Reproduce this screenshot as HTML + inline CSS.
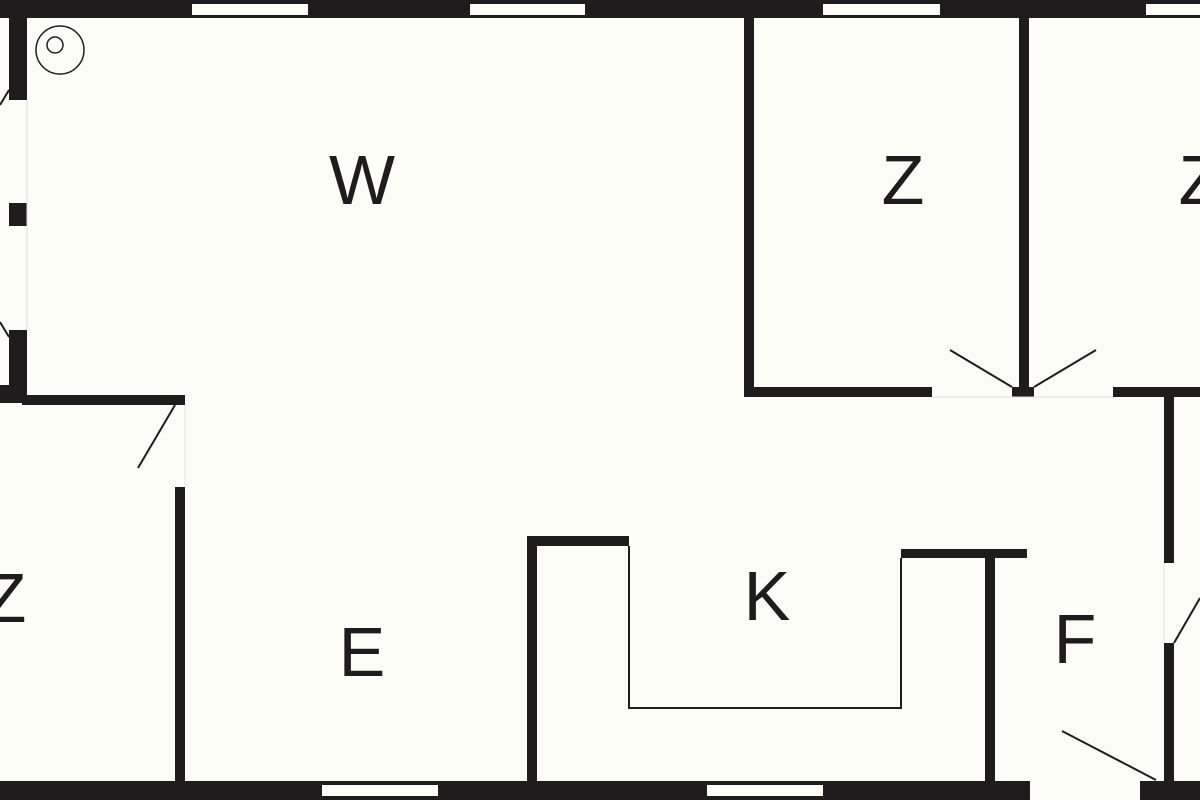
<!DOCTYPE html>
<html><head><style>html,body{margin:0;padding:0;background:#fdfdf8;}svg{display:block}</style></head>
<body>
<svg width="1200" height="800" viewBox="0 0 1200 800" xmlns="http://www.w3.org/2000/svg">
<rect width="1200" height="800" fill="#fdfdf8"/>
<g fill="#1e1c1d">
<rect x="0" y="0" width="1200" height="18"/>
<rect x="0" y="781" width="1030" height="19"/>
<rect x="1140" y="781" width="60" height="19"/>
<rect x="9" y="0" width="18" height="100"/>
<rect x="9" y="203" width="18" height="23"/>
<rect x="9" y="330" width="18" height="72"/>
<rect x="0" y="385" width="27" height="18"/>
<rect x="22" y="395" width="163" height="10"/>
<rect x="175" y="487" width="10" height="294"/>
<rect x="744" y="18" width="10" height="379"/>
<rect x="744" y="387" width="188" height="10"/>
<rect x="1012" y="387" width="22" height="10"/>
<rect x="1019" y="18" width="10" height="375"/>
<rect x="1113" y="387" width="87" height="10"/>
<rect x="1164" y="397" width="10" height="166"/>
<rect x="1164" y="643" width="10" height="138"/>
<rect x="527" y="537" width="10" height="244"/>
<rect x="527" y="536" width="102" height="10"/>
<rect x="901" y="549" width="126" height="9"/>
<rect x="985" y="555" width="10" height="226"/>
</g>
<g fill="#fdfdf8">
<rect x="192" y="4" width="116" height="11"/>
<rect x="470" y="4" width="115" height="11"/>
<rect x="823" y="4" width="117" height="11"/>
<rect x="1146" y="4" width="54" height="11"/>
<rect x="322" y="785" width="116" height="11"/>
<rect x="707" y="785" width="116" height="11"/>
</g>
<g stroke="#1e1c1d" fill="none" stroke-width="2">
<path d="M629 546 V708 H901 V558"/>
<line x1="175" y1="405" x2="138" y2="468"/>
<line x1="950" y1="350" x2="1012" y2="387"/>
<line x1="1096" y1="350" x2="1034" y2="387"/>
<line x1="1174" y1="643" x2="1200" y2="598"/>
<line x1="1062" y1="731" x2="1156" y2="780"/>
<line x1="9" y1="90" x2="0" y2="105"/>
<line x1="9" y1="337" x2="0" y2="322"/>
<circle cx="60" cy="50" r="24" stroke-width="1.5"/>
<circle cx="55" cy="45" r="8" stroke-width="1.5"/>
</g>
<g stroke="#ddd" stroke-width="1">
<line x1="27" y1="100" x2="27" y2="330"/>
<line x1="185" y1="405" x2="185" y2="487"/>
<line x1="932" y1="397" x2="1113" y2="397"/>
<line x1="1164" y1="563" x2="1164" y2="643"/>
</g>
<g font-family="Liberation Sans, sans-serif" font-size="70" fill="#1e1c1d" text-anchor="middle">
<text x="362" y="204">W</text>
<text x="903" y="204">Z</text>
<text x="1200" y="204">Z</text>
<text x="5" y="622">Z</text>
<text x="362" y="676">E</text>
<text x="767" y="620">K</text>
<text x="1075" y="663">F</text>
</g>
</svg>
</body></html>
